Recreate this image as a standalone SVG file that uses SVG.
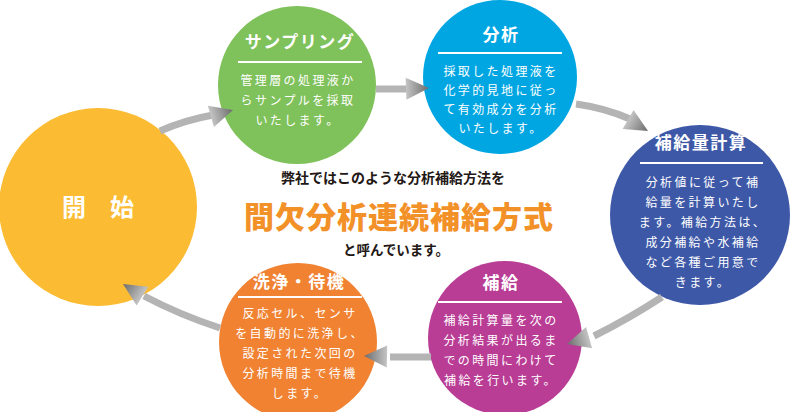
<svg xmlns="http://www.w3.org/2000/svg" xmlns:xlink="http://www.w3.org/1999/xlink" width="800" height="412" viewBox="0 0 800 412">
<defs>
<linearGradient id="hg" x1="0" y1="0" x2="1" y2="0">
<stop offset="0" stop-color="#c4c4c4"/>
<stop offset="1" stop-color="#6a6a6a"/>
</linearGradient>
<path id="head" d="M0,0 L-23,-11 L-23,11 Z" fill="url(#hg)"/>
</defs>
<style>
.jp{font-family:"Noto Sans CJK JP","Noto Sans",sans-serif;}
.title{font-size:17px;font-weight:700;fill:#fff;text-anchor:middle;letter-spacing:1.5px;}
.body{font-size:12px;fill:#fff;text-anchor:middle;letter-spacing:2.4px;}
.rule{stroke:#fff;stroke-width:2;}
.shaft{fill:none;stroke:#b4b4b4;stroke-width:7;}
.center{fill:#231815;font-weight:700;text-anchor:middle;}
</style>
<g id="node-start">
<circle cx="98" cy="207" r="99" fill="#fbbb32"/>
<text class="jp" x="98" y="216" font-size="24" font-weight="700" fill="#fff" text-anchor="middle">開　始</text>
</g>
<g id="node-sampling">
<circle cx="297" cy="85" r="79" fill="#7fc15a"/>
<text class="jp title" x="300" y="48">サンプリング</text>
<line class="rule" x1="238" y1="62" x2="362" y2="62"/>
<text class="jp body" x="298" y="84.5">管理層の処理液か</text>
<text class="jp body" x="298" y="104.5">らサンプルを採取</text>
<text class="jp body" x="298" y="124.5">いたします。</text>
</g>
<g id="node-analysis">
<circle cx="500" cy="77" r="77" fill="#00a6e2"/>
<text class="jp title" x="501" y="41">分析</text>
<line class="rule" x1="438" y1="53" x2="562" y2="53"/>
<text class="jp body" x="501" y="76">採取した処理液を</text>
<text class="jp body" x="501" y="95">化学的見地に従っ</text>
<text class="jp body" x="501" y="114">て有効成分を分析</text>
<text class="jp body" x="501" y="133">いたします。</text>
</g>
<g id="node-calc">
<circle cx="700" cy="215" r="90" fill="#3e58a8"/>
<text class="jp title" x="701" y="149">補給量計算</text>
<line class="rule" x1="640" y1="163" x2="763" y2="163"/>
<text class="jp body" x="703" y="186.5">分析値に従って補</text>
<text class="jp body" x="703" y="206.5">給量を計算いたし</text>
<text class="jp body" x="703" y="226.5" letter-spacing="1">ます。補給方法は、</text>
<text class="jp body" x="703" y="246.5">成分補給や水補給</text>
<text class="jp body" x="703" y="266.5">など各種ご用意で</text>
<text class="jp body" x="703" y="286.5">きます。</text>
</g>
<g id="node-supply">
<circle cx="505" cy="338" r="77" fill="#b93c95"/>
<text class="jp title" x="501" y="289">補給</text>
<line class="rule" x1="438" y1="302" x2="562" y2="302"/>
<text class="jp body" x="501" y="324.5">補給計算量を次の</text>
<text class="jp body" x="501" y="344.5">分析結果が出るま</text>
<text class="jp body" x="501" y="364.5">での時間にわけて</text>
<text class="jp body" x="501" y="384.5">補給を行います。</text>
</g>
<g id="node-wash">
<circle cx="298" cy="342" r="79" fill="#f08232"/>
<text class="jp title" x="299" y="288">洗浄・待機</text>
<line class="rule" x1="238" y1="297" x2="362" y2="297"/>
<text class="jp body" x="300" y="317.5">反応セル、センサ</text>
<text class="jp body" x="300" y="337.5" letter-spacing="1">を自動的に洗浄し、</text>
<text class="jp body" x="300" y="357.5">設定された次回の</text>
<text class="jp body" x="300" y="377.5">分析時間まで待機</text>
<text class="jp body" x="300" y="397.5">します。</text>
</g>
<g id="connectors">
<path class="shaft" d="M160,131 Q185,120 213,115"/>
<use xlink:href="#head" transform="translate(233,110) rotate(-16)"/>
<path class="shaft" d="M376,89 L408,89"/>
<use xlink:href="#head" transform="translate(429,88) rotate(-2)"/>
<path class="shaft" d="M576,104 Q605,108 630,119"/>
<use xlink:href="#head" transform="translate(648,131) rotate(30)"/>
<path class="shaft" d="M662,297 Q630,318 594,336"/>
<use xlink:href="#head" transform="translate(567,344) rotate(164)"/>
<path class="shaft" d="M431,357 L390,357"/>
<use xlink:href="#head" transform="translate(364,356) rotate(181)"/>
<path class="shaft" d="M220,328 Q180,315 144,296"/>
<use xlink:href="#head" transform="translate(123,284) rotate(-148)"/>
</g>
<g id="center-text">
<text class="jp center" x="393" y="183" font-size="14">弊社ではこのような分析補給方法を</text>
<text class="jp" x="399" y="228" font-size="30" font-weight="900" fill="#f39129" text-anchor="middle" letter-spacing="1">間欠分析連続補給方式</text>
<text class="jp center" x="396" y="255" font-size="13.5">と呼んでいます。</text>
</g>
</svg>
